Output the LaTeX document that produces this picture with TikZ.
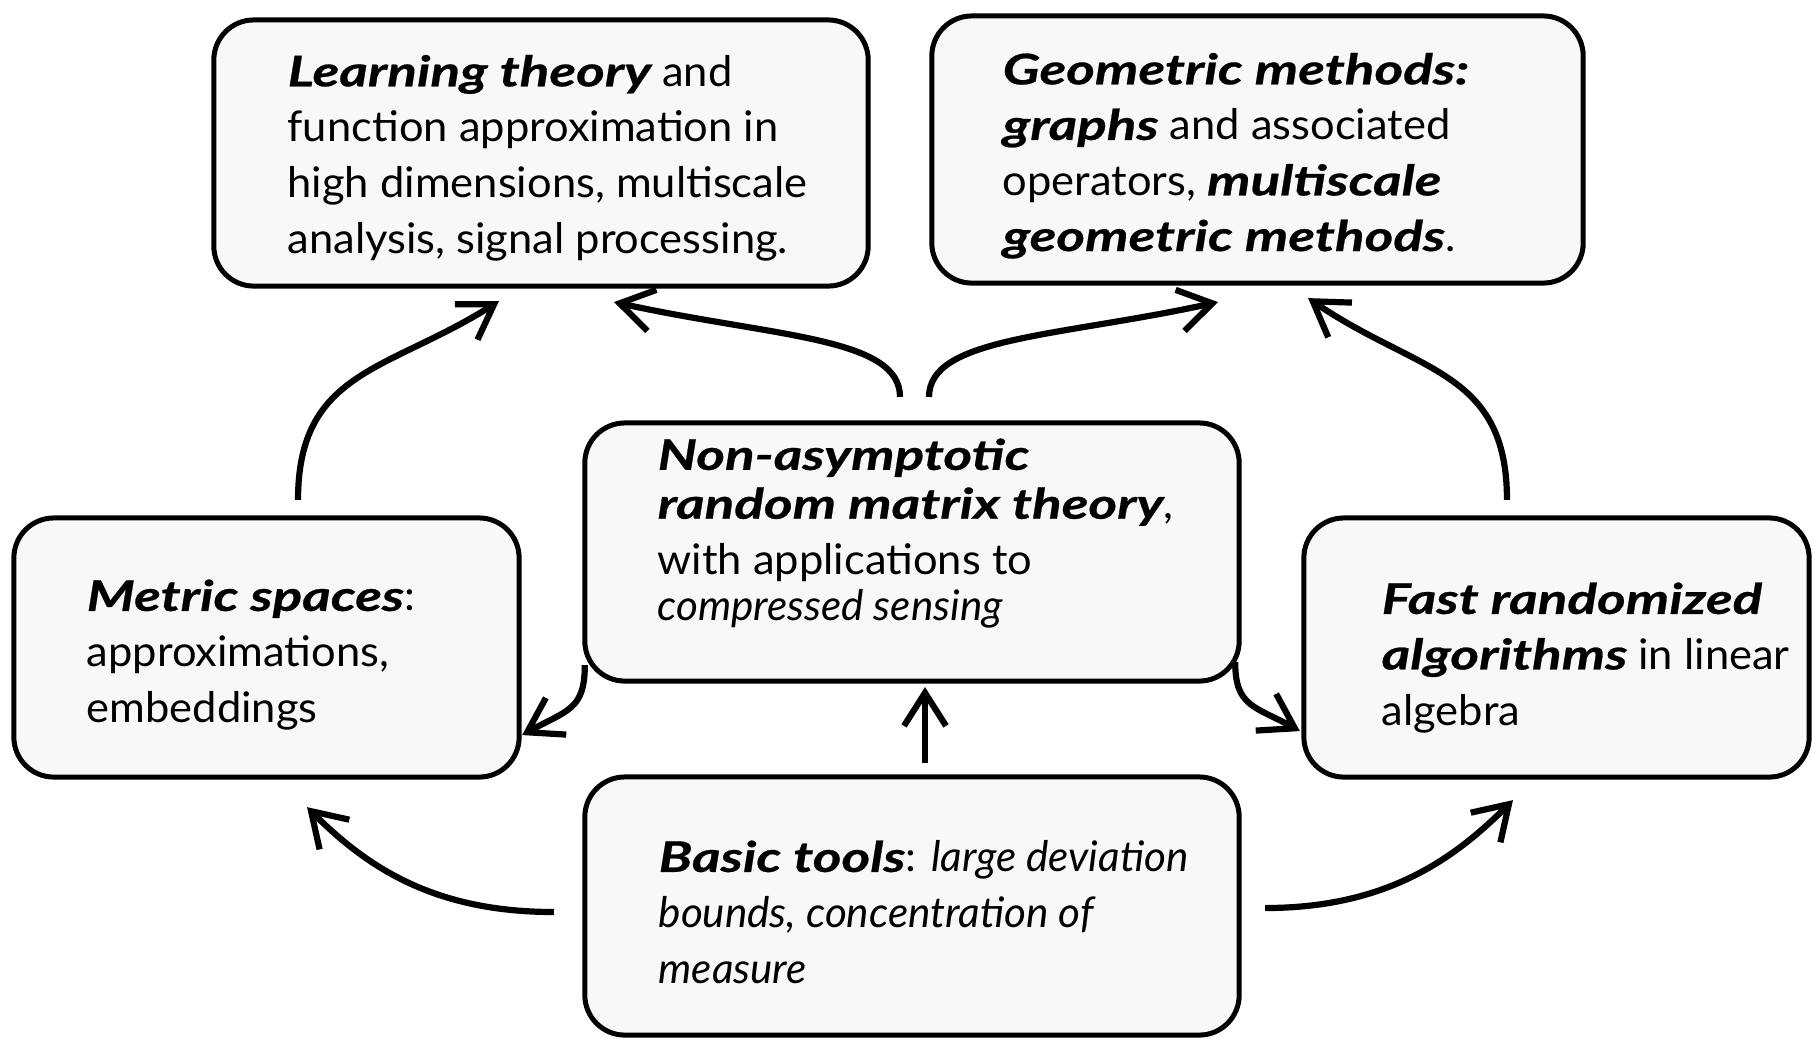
\documentclass[tikz,border=0pt]{standalone}
\usepackage{fontspec}
\setmainfont{Lato}[UprightFeatures={FakeStretch=1.03}]
\newfontfamily\bifam{Lato}[FakeStretch=1.30,FakeBold=0.6]
\usetikzlibrary{arrows.meta,calc}
\definecolor{boxfill}{RGB}{248,248,248}
\newcommand\bfit[1]{{\bifam\bfseries\itshape #1}}
\begin{document}
\begin{tikzpicture}[x=0.01cm,y=0.01cm,
  box/.style={draw=black,line width=0.05cm,fill=boxfill,rounded corners=0.4cm,inner sep=0pt,outer sep=0pt},
  txt/.style={anchor=base west,align=left,inner sep=0pt,font=\fontsize{12pt}{15.8pt}\selectfont},
  arr/.style={line width=0.062cm,-{Straight Barb[length=0.33cm,width=0.42cm]}}
]
\path[use as bounding box,fill=white] (0,0) rectangle (1815,-1038);
% boxes
\node[box,minimum width=6.54cm,minimum height=2.66cm] (lt) at (541,-153) {};
\node[box,minimum width=6.51cm,minimum height=2.67cm] (gm) at (1257.5,-149.5) {};
\node[box,minimum width=6.54cm,minimum height=2.58cm] (na) at (912,-552) {};
\node[box,minimum width=5.05cm,minimum height=2.59cm] (ms) at (266.5,-647.5) {};
\node[box,minimum width=5.05cm,minimum height=2.59cm] (fr) at (1556.5,-647.5) {};
\node[box,minimum width=6.54cm,minimum height=2.58cm] (bt) at (912,-906) {};
% texts (anchored at the baseline of the last line)
\node[txt] (ltt) at (287,-253) {\bfit{Learning theory} and\\function approximation in\\high dimensions, multiscale\\analysis, signal processing.};
\node[txt] (gmt) at (1002,-251) {\bfit{Geometric methods:}\\\bfit{graphs} and associated\\operators, \bfit{multiscale}\\\bfit{geometric methods}.};
\node[txt] (nat) at (657,-620) {\bfit{Non-asymptotic}\\[-1.9pt]\bfit{random matrix theory},\\with applications to\\[-2.8pt]\textit{compressed sensing}};
\node[txt] (mst) at (86,-722) {\bfit{Metric spaces}:\\approximations,\\embeddings};
\node[txt] (frt) at (1381,-725) {\bfit{Fast randomized}\\\bfit{algorithms} in linear\\algebra};
\node[txt] (btt) at (658,-983) {\bfit{Basic tools}: \textit{large deviation}\\\textit{bounds, concentration of}\\\textit{measure}};
% arrows
\draw[arr] ([xshift=0.315cm,yshift=0.18cm]ms.north) .. controls +(0,130) and +(-110,-70) .. ([xshift=-0.42cm,yshift=-0.15cm]lt.south);
\draw[arr] ([xshift=-0.12cm,yshift=0.26cm]na.north) .. controls +(0,60) and +(160,-35) .. ([xshift=0.73cm,yshift=-0.16cm]lt.south);
\draw[arr] ([xshift=0.17cm,yshift=0.26cm]na.north) .. controls +(0,60) and +(-160,-35) .. ([xshift=-0.395cm,yshift=-0.19cm]gm.south);
\draw[arr] ([xshift=-0.495cm,yshift=0.18cm]fr.north) .. controls +(0,130) and +(110,-75) .. ([xshift=0.505cm,yshift=-0.15cm]gm.south);
\draw[arr] ([yshift=0.16cm]na.south west) .. controls +(0,-45) and +(45,25) .. ([xshift=0.03cm,yshift=0.42cm]ms.south east);
\draw[arr] ([xshift=-0.04cm,yshift=0.19cm]na.south east) .. controls +(0,-45) and +(-45,25) .. ([xshift=-0.04cm,yshift=0.46cm]fr.south west);
\draw[arr] ([xshift=0.13cm,yshift=0.14cm]bt.north) -- ([xshift=0.13cm,yshift=-0.06cm]na.south);
\draw[arr] ([xshift=-0.31cm,yshift=-0.06cm]bt.west) .. controls +(-120,0) and +(60,-60) .. ([xshift=0.405cm,yshift=-0.30cm]ms.south);
\draw[arr] ([xshift=0.26cm,yshift=-0.02cm]bt.east) .. controls +(120,0) and +(-60,-60) .. ([xshift=-0.435cm,yshift=-0.23cm]fr.south);
\end{tikzpicture}
\end{document}
